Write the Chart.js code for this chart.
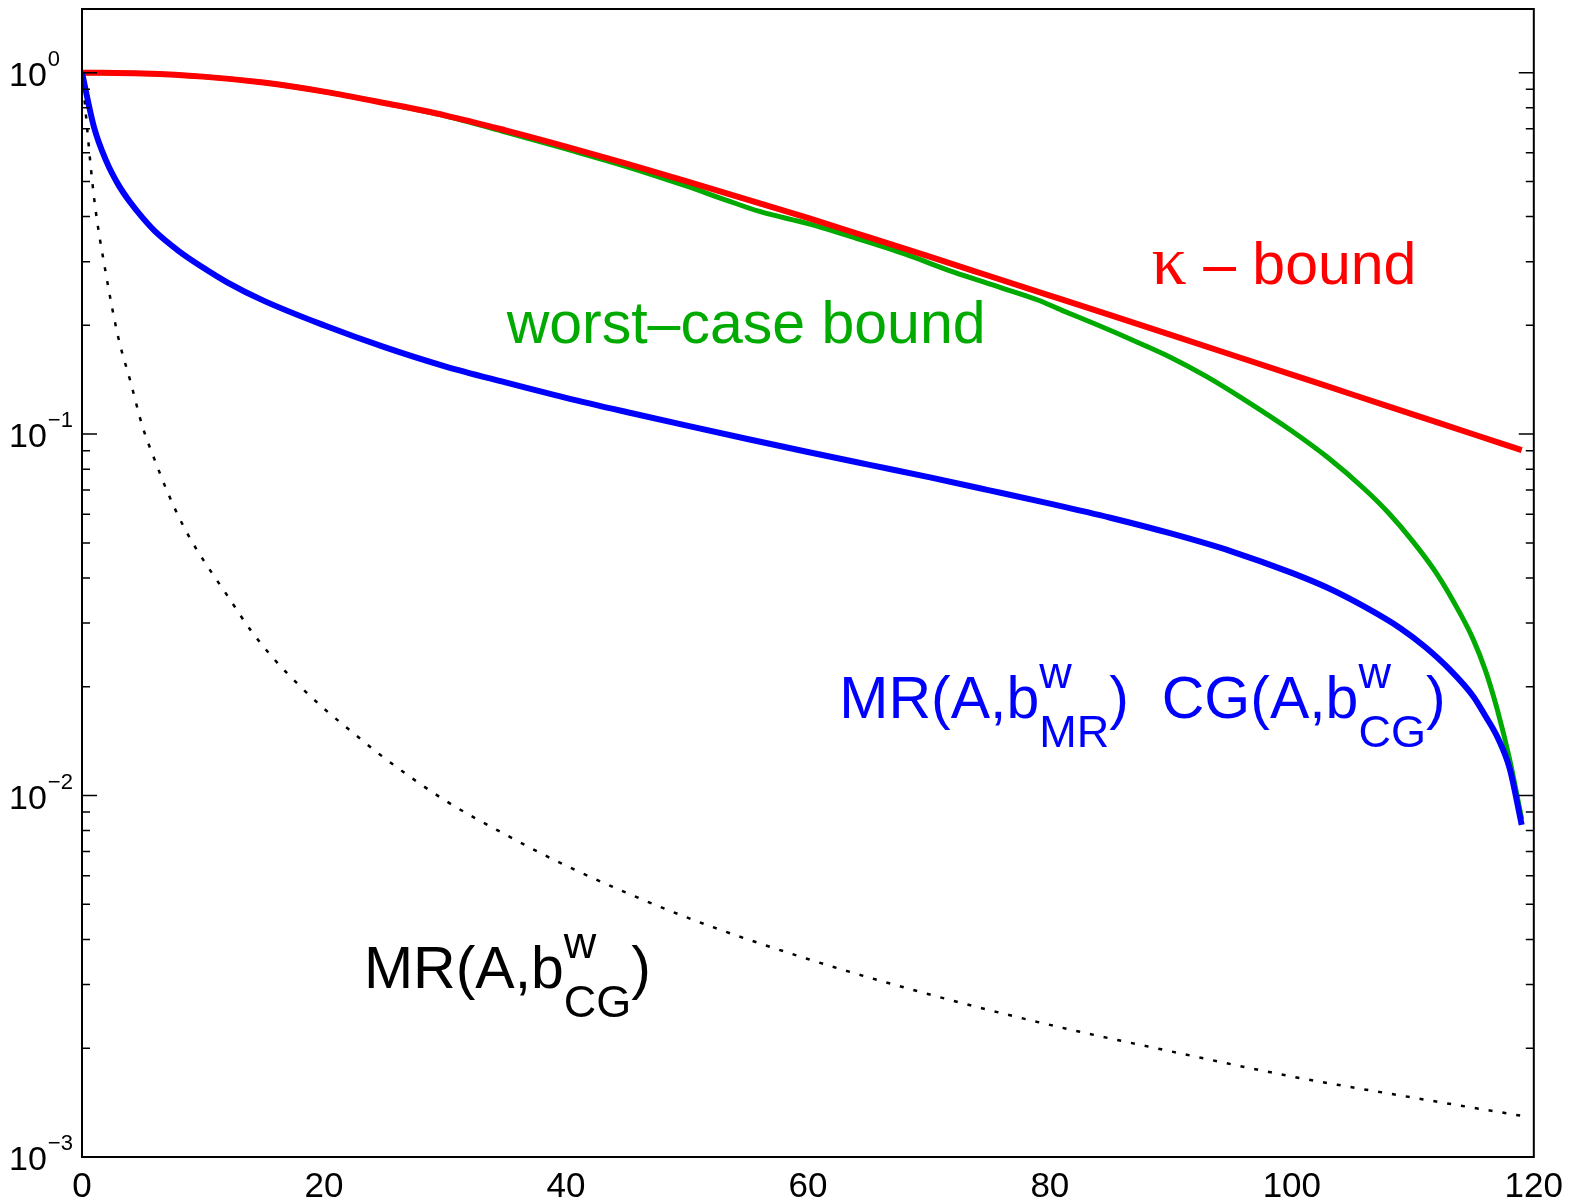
<!DOCTYPE html>
<html>
<head>
<meta charset="utf-8">
<script src="https://cdn.jsdelivr.net/npm/chart.js@4/dist/chart.umd.min.js"></script>
<style>
  html, body { margin: 0; padding: 0; background: #ffffff; }
  #wrap { width: 1572px; height: 1202px; }
</style>
</head>
<body>
<div id="wrap"><canvas id="c" width="1572" height="1202"></canvas></div>
<script>
// ---------------- data ----------------
const kappaX = [0, 5, 10, 15, 20, 25, 30, 35, 40, 45, 50, 55, 60, 65, 70, 75, 80, 85, 90, 95, 100, 105, 110, 115, 119];
const kappaY = [1.0, 0.9943, 0.975, 0.9386, 0.886, 0.824, 0.762, 0.6925, 0.6245, 0.5598, 0.50, 0.4457, 0.3963, 0.3508, 0.3101, 0.2738, 0.2417, 0.2133, 0.1881, 0.1658, 0.1461, 0.1287, 0.1134, 0.0999, 0.0903];

const worstX = [0, 5, 10, 15, 20, 25, 30, 35, 40, 45, 50, 53, 56, 60, 64, 68, 72, 76, 79, 81, 84, 87, 90, 93, 96, 100, 103, 106, 108, 110, 112, 114, 115, 116, 117, 118, 119];
const worstY = [1.0, 0.9943, 0.975, 0.9386, 0.886, 0.824, 0.760, 0.685, 0.615, 0.550, 0.485, 0.447, 0.413, 0.382, 0.348, 0.315, 0.281, 0.254, 0.235, 0.220, 0.200, 0.181, 0.163, 0.144, 0.125, 0.102, 0.086, 0.0705, 0.0605, 0.0505, 0.0410, 0.0315, 0.0270, 0.0222, 0.0172, 0.0126, 0.0086];

const cgX = [0, 1, 2, 3, 4, 5, 6, 8, 10, 12, 15, 20, 25, 30, 35, 40, 45, 50, 55, 60, 65, 70, 75, 80, 85, 90, 95, 100, 103, 106, 109, 111, 113, 115, 116, 117, 118, 119];
const cgY = [1.0, 0.705, 0.57, 0.49, 0.437, 0.397, 0.365, 0.321, 0.289, 0.263, 0.234, 0.200, 0.174, 0.154, 0.139, 0.126, 0.1151, 0.1055, 0.0969, 0.0892, 0.0823, 0.0760, 0.0699, 0.0642, 0.0587, 0.0531, 0.0474, 0.0413, 0.0375, 0.0333, 0.0290, 0.0258, 0.0224, 0.0188, 0.0166, 0.0145, 0.0119, 0.0083];

const mrX = [0, 1, 2, 3, 4, 5, 6, 7, 8, 9, 10, 12, 14, 16, 18, 20, 22, 25, 30, 35, 40, 50, 60, 70, 80, 90, 100, 110, 119];
const mrY = [1.0, 0.45, 0.275, 0.185, 0.14, 0.105, 0.085, 0.07, 0.059, 0.051, 0.045, 0.0358, 0.0285, 0.0236, 0.0201, 0.0174, 0.0153, 0.0127, 0.0097, 0.0078, 0.0064, 0.0046, 0.00353, 0.00282, 0.00232, 0.00196, 0.00167, 0.00146, 0.0013];

const xTickValues = [0, 20, 40, 60, 80, 100, 120];
const yTickValues = [1, 0.1, 0.01, 0.001];
const yTickExponents = ['0', '\u22121', '\u22122', '\u22123'];

// ---------------- helpers ----------------
function pts(xs, ys) { return xs.map((x, i) => ({ x: x, y: ys[i] })); }
const SANS = '"Liberation Sans", Arial, Helvetica, sans-serif';
const SERIF = '"Liberation Serif", "Times New Roman", serif';

function drawRich(ctx, x, y, parts, color, mainSize, smallSize) {
  ctx.save();
  ctx.fillStyle = color;
  ctx.textBaseline = 'alphabetic';
  ctx.textAlign = 'left';
  let cx = x;
  for (const p of parts) {
    if (typeof p === 'string') {
      ctx.font = mainSize + 'px ' + SANS;
      ctx.fillText(p, cx, y);
      cx += ctx.measureText(p).width;
    } else if (p.serif) {
      ctx.font = p.size + 'px ' + SERIF;
      ctx.fillText(p.serif, cx, y);
      cx += ctx.measureText(p.serif).width;
    } else {
      ctx.font = smallSize + 'px ' + SANS;
      let w = 0;
      if (p.sup) { ctx.fillText(p.sup, cx, y - 30); w = Math.max(w, ctx.measureText(p.sup).width); }
      if (p.sub) { ctx.fillText(p.sub, cx, y + 29); w = Math.max(w, ctx.measureText(p.sub).width); }
      cx += w;
    }
  }
  ctx.restore();
}

const framePlugin = {
  id: 'frame',
  afterDatasetsDraw(chart) {
    const ctx = chart.ctx;
    const a = chart.chartArea;
    const ys = chart.scales.y;
    ctx.save();
    ctx.strokeStyle = '#000';
    ctx.lineWidth = 1.5;
    ctx.beginPath();
    // y ticks (left & right), major + minor, pointing inward
    for (let e = -3; e <= 0; e++) {
      for (let m = 1; m <= 9; m++) {
        const v = m * Math.pow(10, e);
        if (v > ys.max * 1.0001 || v < ys.min * 0.9999) continue;
        const py = ys.getPixelForValue(v);
        const len = (m === 1) ? 15 : 8;
        ctx.moveTo(a.left, py); ctx.lineTo(a.left + len, py);
        ctx.moveTo(a.right, py); ctx.lineTo(a.right - len, py);
      }
    }
    ctx.stroke();
    ctx.lineWidth = 2;
    ctx.strokeRect(a.left, a.top, a.right - a.left, a.bottom - a.top);
    ctx.restore();
  },
  afterDraw(chart) {
    const ctx = chart.ctx;
    const xs = chart.scales.x, ys = chart.scales.y;
    // y tick labels 10^n
    ctx.save();
    ctx.fillStyle = '#000';
    ctx.textBaseline = 'alphabetic';
    yTickValues.forEach((v, i) => {
      const py = ys.getPixelForValue(v);
      ctx.font = '34px ' + SANS;
      ctx.fillText('10', 9, py + 13);
      const w = ctx.measureText('10').width;
      ctx.font = '22px ' + SANS;
      ctx.fillText(yTickExponents[i], 9 + w + 1, py - 7);
    });
    ctx.restore();

    // annotations
    const P = (x, y) => [xs.getPixelForValue(x), ys.getPixelForValue(y)];
    let p;
    p = P(88.4, 0.2602);
    drawRich(ctx, p[0], p[1], [{ serif: '\u03BA', size: 70 }, ' \u2013 bound'], '#ff0000', 59, 44);
    p = P(35.1, 0.1786);
    drawRich(ctx, p[0], p[1], ['worst\u2013case bound'], '#00aa00', 59, 44);
    p = P(62.6, 0.01635);
    drawRich(ctx, p[0], p[1], ['MR(A,b', { sup: 'w', sub: 'MR' }, ')  CG(A,b', { sup: 'w', sub: 'CG' }, ')'], '#0000ff', 59, 45);
    p = P(23.3, 0.00294);
    drawRich(ctx, p[0], p[1], ['MR(A,b', { sup: 'w', sub: 'CG' }, ')'], '#000000', 59, 45);
  }
};

const ctx = document.getElementById('c').getContext('2d');
new Chart(ctx, {
  type: 'line',
  data: {
    datasets: [
      { label: 'CG', data: pts(cgX, cgY), borderColor: '#0000ff', borderWidth: 6, cubicInterpolationMode: 'monotone', fill: false },
      { label: 'kappa bound', data: pts(kappaX, kappaY), borderColor: '#ff0000', borderWidth: 6, cubicInterpolationMode: 'monotone', fill: false },
      { label: 'worst-case bound', data: pts(worstX, worstY), borderColor: '#00aa00', borderWidth: 5, cubicInterpolationMode: 'monotone', fill: false },
      { label: 'MR(A,b_CG)', data: pts(mrX, mrY), borderColor: '#000000', borderWidth: 2.5, borderDash: [4, 10], borderCapStyle: 'butt', cubicInterpolationMode: 'monotone', fill: false }
    ]
  },
  options: {
    responsive: false,
    animation: false,
    devicePixelRatio: 1,
    layout: { padding: { top: 9, right: 33, left: 0, bottom: 0 } },
    plugins: { legend: { display: false }, tooltip: { enabled: false } },
    elements: { point: { radius: 0 }, line: { borderJoinStyle: 'round' } },
    scales: {
      x: {
        type: 'linear', min: 0, max: 120,
        ticks: { stepSize: 20, autoSkip: false, maxRotation: 0, color: '#000', padding: 9, font: { size: 35, family: SANS } },
        grid: { display: false, drawTicks: false },
        border: { display: false },
        afterFit(s) { s.height = 45; }
      },
      y: {
        type: 'logarithmic', min: 0.001, max: 1.5,
        ticks: { display: false },
        grid: { display: false, drawTicks: false },
        border: { display: false },
        afterFit(s) { s.width = 82; }
      }
    }
  },
  plugins: [framePlugin]
});
</script>
</body>
</html>
